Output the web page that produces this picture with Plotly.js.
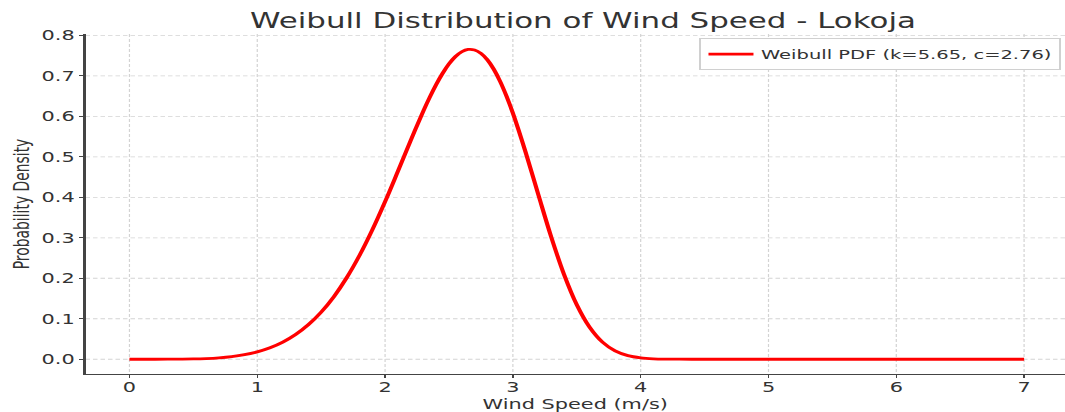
<!DOCTYPE html>
<html>
<head>
<meta charset="utf-8">
<script src="https://cdn.plot.ly/plotly-3.0.1.min.js"></script>
<style>
  html, body { margin: 0; padding: 0; background: #ffffff; overflow: hidden; }
  #chart { width: 710px; height: 412px; transform: scaleX(1.5); transform-origin: 0 0; }
</style>
</head>
<body>
<div id="chart"></div>
<script>
// Wind speed (m/s) sample points
const windSpeed = [0, 0.1, 0.2, 0.3, 0.4, 0.5, 0.6, 0.7, 0.8, 0.9,
  1.0, 1.1, 1.2, 1.3, 1.4, 1.5, 1.6, 1.7, 1.8, 1.9,
  2.0, 2.1, 2.2, 2.3, 2.35, 2.4, 2.45, 2.5, 2.55, 2.6, 2.65, 2.7, 2.75, 2.8, 2.85, 2.9, 2.95,
  3.0, 3.1, 3.2, 3.3, 3.4, 3.5, 3.6, 3.7, 3.8, 3.9,
  4.0, 4.1, 4.2, 4.3, 4.4, 4.5, 5.0, 5.5, 6.0, 6.5, 7.0];
// Probability density
const density = [0, 0, 0, 0.0001, 0.0003, 0.0007, 0.0017, 0.0035, 0.0065, 0.0112,
  0.0182, 0.0282, 0.0422, 0.0609, 0.0853, 0.1164, 0.1549, 0.2016, 0.2565, 0.3195,
  0.3893, 0.4640, 0.5402, 0.6137, 0.6476, 0.6788, 0.7063, 0.7295, 0.7475, 0.7597, 0.7654, 0.7641, 0.7557, 0.7398, 0.7167, 0.6865, 0.6500,
  0.6079, 0.5111, 0.4056, 0.3021, 0.2097, 0.1345, 0.0792, 0.0425, 0.0205, 0.0088,
  0.0034, 0.0011, 0.0003, 0.0001, 0, 0, 0, 0, 0, 0, 0];

const seriesName = 'Weibull PDF (k=5.65, c=2.76)';
const xTicks = [0, 1, 2, 3, 4, 5, 6, 7];
const xTickLabels = ['0', '1', '2', '3', '4', '5', '6', '7'];
const yTicks = [0, 0.1, 0.2, 0.3, 0.4, 0.5, 0.6, 0.7, 0.8];
const yTickLabels = ['0.0', '0.1', '0.2', '0.3', '0.4', '0.5', '0.6', '0.7', '0.8'];

const FONT = 'DejaVu Sans, Verdana, sans-serif';
const TXT = '#333333';

const trace = {
  x: windSpeed,
  y: density,
  type: 'scatter',
  mode: 'lines',
  name: seriesName,
  line: { color: '#ff0000', width: 2.8, shape: 'spline', smoothing: 1 },
  hoverinfo: 'skip'
};

const layout = {
  width: 710,
  height: 412,
  margin: { l: 57, r: 0, t: 34, b: 38, pad: 0 },
  paper_bgcolor: '#ffffff',
  plot_bgcolor: '#ffffff',
  font: { family: FONT, color: TXT, size: 13.9 },
  title: {
    text: 'Weibull Distribution of Wind Speed - Lokoja',
    font: { family: FONT, size: 20.6, color: TXT },
    xref: 'container', x: 0.5474, xanchor: 'center',
    yref: 'container', y: 0.949, yanchor: 'middle'
  },
  showlegend: true,
  legend: {
    x: 0.9959, y: 0.988, xanchor: 'right', yanchor: 'top',
    bgcolor: '#ffffff', bordercolor: '#d0d0d0', borderwidth: 1,
    font: { family: FONT, size: 13, color: TXT }
  },
  xaxis: {
    range: [-0.344, 7.32],
    tickmode: 'array', tickvals: xTicks, ticktext: xTickLabels,
    ticks: 'outside', ticklen: 3, tickwidth: 1, tickcolor: '#444444',
    tickfont: { family: FONT, size: 13.9, color: TXT },
    showline: true, linecolor: '#444444', linewidth: 1.4, mirror: false,
    showgrid: true, gridcolor: '#d3d3d3', gridwidth: 0.8, griddash: '3px,2px',
    zeroline: false, automargin: false,
    title: { text: 'Wind Speed (m/s)', font: { family: FONT, size: 13.9, color: TXT }, standoff: 2 }
  },
  yaxis: {
    range: [-0.0365, 0.8035],
    tickmode: 'array', tickvals: yTicks, ticktext: yTickLabels,
    ticks: 'outside', ticklen: 3, tickwidth: 1, tickcolor: '#444444',
    tickfont: { family: FONT, size: 13.9, color: TXT },
    showline: true, linecolor: '#444444', linewidth: 1.4, mirror: false,
    showgrid: true, gridcolor: '#d3d3d3', gridwidth: 0.8, griddash: '3px,2px',
    zeroline: false, automargin: false,
    title: { text: 'Probability Density', font: { family: FONT, size: 13.9, color: TXT }, standoff: 4 }
  }
};

Plotly.newPlot('chart', [trace], layout, { displayModeBar: false, staticPlot: true }).then(function () {
  // nudge x tick labels slightly upward to match the reference spacing
  document.querySelectorAll('.xtick text').forEach(function (t) {
    t.setAttribute('transform', (t.getAttribute('transform') || '') + ' translate(0,-3)');
  });
});
</script>
</body>
</html>
